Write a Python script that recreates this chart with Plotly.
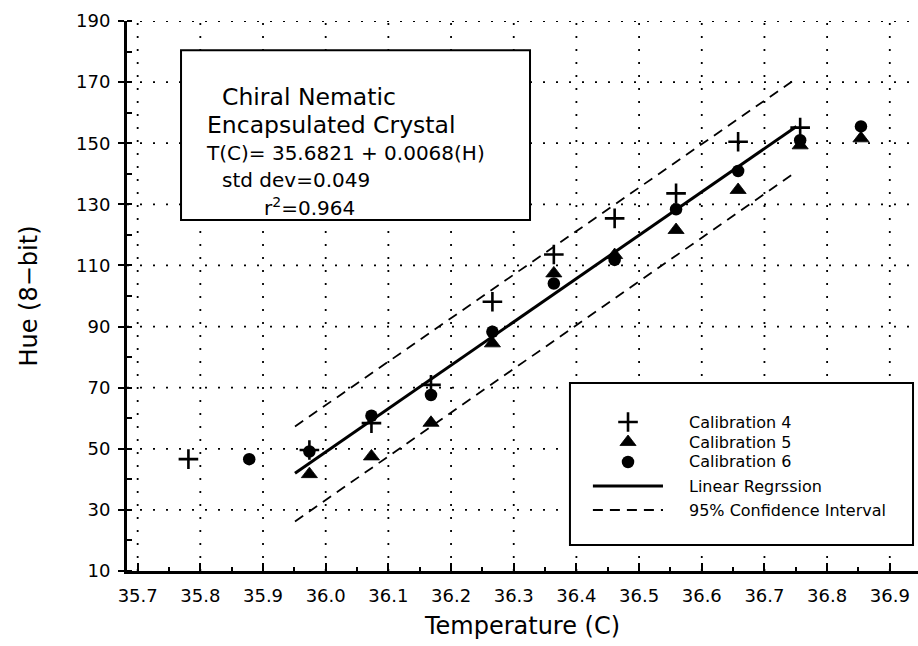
import plotly.graph_objects as go

# ---- calibration data: temperature (C) vs. hue (8-bit) ----
cal4_temp = [35.781, 35.974, 36.073, 36.168, 36.266, 36.364, 36.461, 36.559, 36.658, 36.757]
cal4_hue = [46.6, 49.6, 58.4, 70.9, 98.1, 113.6, 125.4, 133.6, 150.5, 155.1]

cal5_temp = [35.974, 36.073, 36.168, 36.266, 36.364, 36.461, 36.559, 36.658, 36.757, 36.854]
cal5_hue = [41.7, 47.5, 58.5, 84.5, 107.4, 113.4, 121.6, 134.7, 149.3, 151.6]

cal6_temp = [35.878, 35.974, 36.073, 36.168, 36.266, 36.364, 36.461, 36.559, 36.658, 36.757, 36.854]
cal6_hue = [46.6, 49.1, 60.8, 67.6, 88.3, 104.1, 111.8, 128.4, 140.9, 151.0, 155.5]

# regression line and 95% confidence band end points
fit_temp = [35.951, 36.751]
fit_hue = [42.0, 155.5]
ci_upper_hue = [57.3, 171.2]
ci_lower_hue = [26.2, 140.7]

# axis ticks
x_ticks = [35.7, 35.8, 35.9, 36.0, 36.1, 36.2, 36.3, 36.4, 36.5, 36.6, 36.7, 36.8, 36.9]
y_ticks = [10, 30, 50, 70, 90, 110, 130, 150, 170, 190]

legend_labels = ["Calibration 4", "Calibration 5", "Calibration 6",
                 "Linear Regrssion", "95% Confidence Interval"]

info_lines = ["Chiral Nematic", "Encapsulated Crystal",
              "T(C)= 35.6821 + 0.0068(H)", "std dev=0.049", "r<sup>2</sup>=0.964"]

FONT = "DejaVu Sans"
INK = "black"
DASH = "10px,7px"
GRID_DASH = "2px,11px"

plus_marker = dict(symbol="cross-thin", size=14, line=dict(width=2.6, color=INK), color=INK)
tri_marker = dict(symbol="triangle-up", size=14, color=INK, line=dict(width=0.8, color=INK))
dot_marker = dict(symbol="circle", size=12.5, color=INK, line=dict(width=0))

fig = go.Figure()

fig.add_trace(go.Scatter(x=fit_temp, y=ci_upper_hue, mode="lines",
                         line=dict(color=INK, width=1.8, dash=DASH), hoverinfo="skip"))
fig.add_trace(go.Scatter(x=fit_temp, y=ci_lower_hue, mode="lines",
                         line=dict(color=INK, width=1.8, dash=DASH), hoverinfo="skip"))
fig.add_trace(go.Scatter(x=fit_temp, y=fit_hue, mode="lines",
                         line=dict(color=INK, width=3), name=legend_labels[3]))
fig.add_trace(go.Scatter(x=cal5_temp, y=cal5_hue, mode="markers", marker=tri_marker,
                         name=legend_labels[1]))
fig.add_trace(go.Scatter(x=cal6_temp, y=cal6_hue, mode="markers", marker=dot_marker,
                         name=legend_labels[2]))
fig.add_trace(go.Scatter(x=cal4_temp, y=cal4_hue, mode="markers", marker=plus_marker,
                         name=legend_labels[0]))

# ---- hand-drawn key on an overlay axis pair spanning the plot area (0..1) ----
key_sym_x = 0.6334
key_line_x = [0.589, 0.6776]
key_text_x = 0.708
key_rows = [0.2709, 0.2345, 0.1982, 0.1545, 0.1109]

for marker, row in ((plus_marker, key_rows[0]), (tri_marker, key_rows[1]), (dot_marker, key_rows[2])):
    fig.add_trace(go.Scatter(x=[key_sym_x], y=[row], mode="markers", marker=marker,
                             xaxis="x2", yaxis="y2", hoverinfo="skip"))
fig.add_trace(go.Scatter(x=key_line_x, y=[key_rows[3]] * 2, mode="lines",
                         line=dict(color=INK, width=3), xaxis="x2", yaxis="y2", hoverinfo="skip"))
fig.add_trace(go.Scatter(x=key_line_x, y=[key_rows[4]] * 2, mode="lines",
                         line=dict(color=INK, width=1.8, dash=DASH), xaxis="x2", yaxis="y2",
                         hoverinfo="skip"))

annotations = []
for label, row in zip(legend_labels, key_rows):
    annotations.append(dict(x=key_text_x, y=row, xref="paper", yref="paper", text=label,
                            showarrow=False, xanchor="left", yanchor="middle",
                            font=dict(family=FONT, size=16, color=INK)))

# info box text: (left x, centre y, font size)
info_pos = [(0.1176, 0.8618, 23.5), (0.0986, 0.8109, 23.5), (0.0973, 0.7600, 20),
            (0.1176, 0.7109, 20), (0.1707, 0.6618, 20)]
for text, (xp, yp, fs) in zip(info_lines, info_pos):
    annotations.append(dict(x=xp, y=yp, xref="paper", yref="paper", text=text,
                            showarrow=False, xanchor="left", yanchor="middle",
                            font=dict(family=FONT, size=fs, color=INK)))

# dotted grid drawn as shapes so the opaque boxes can sit on top of it
shapes = []
for xv in x_ticks:
    shapes.append(dict(type="line", xref="x", yref="paper", x0=xv, x1=xv, y0=0, y1=1,
                       line=dict(color=INK, width=1.8, dash=GRID_DASH), layer="below"))
for yv in y_ticks[1:]:
    shapes.append(dict(type="line", xref="paper", yref="y", x0=0, x1=1, y0=yv, y1=yv,
                       line=dict(color=INK, width=1.8, dash=GRID_DASH), layer="below"))

# info box and key box (white, over the grid, under the marks)
shapes += [
    dict(type="rect", xref="paper", yref="paper", x0=0.0683, x1=0.5095, y0=0.638, y1=0.947,
         line=dict(color=INK, width=2), fillcolor="white", layer="below"),
    dict(type="rect", xref="paper", yref="paper", x0=0.560, x1=0.9937, y0=0.0473, y1=0.3418,
         line=dict(color=INK, width=2), fillcolor="white", layer="below"),
]

fig.update_layout(
    width=918, height=646,
    margin=dict(l=127, r=0, t=21, b=75),
    paper_bgcolor="white", plot_bgcolor="white",
    showlegend=False,
    font=dict(family=FONT, color=INK),
    annotations=annotations,
    shapes=shapes,
    xaxis=dict(
        range=[35.683, 36.945], tickmode="array", tickvals=x_ticks,
        ticktext=[f"{v:.1f}" for v in x_ticks],
        ticks="inside", ticklen=8, tickwidth=1.5, tickcolor=INK,
        showline=True, linewidth=3, linecolor=INK, zeroline=False, showgrid=False,
        tickfont=dict(family=FONT, size=18, color=INK), ticklabelstandoff=6,
        minor=dict(tick0=35.7, dtick=0.05, ticks="inside", ticklen=4, tickwidth=1.5,
                   tickcolor=INK, showgrid=False),
        title=dict(text="Temperature (C)", font=dict(family=FONT, size=24, color=INK), standoff=13),
    ),
    yaxis=dict(
        range=[10, 190], tickmode="array", tickvals=y_ticks,
        ticks="outside", ticklen=6, tickwidth=1.5, tickcolor=INK,
        showline=True, linewidth=3, linecolor=INK, zeroline=False, showgrid=False,
        tickfont=dict(family=FONT, size=18, color=INK), ticklabelstandoff=4,
        minor=dict(tick0=0, dtick=10, ticks="inside", ticklen=5, tickwidth=1.5,
                   tickcolor=INK, showgrid=False),
        title=dict(text="Hue (8\u2212bit)", font=dict(family=FONT, size=24, color=INK), standoff=32),
    ),
    xaxis2=dict(overlaying="x", range=[0, 1], visible=False, fixedrange=True),
    yaxis2=dict(overlaying="y", range=[0, 1], visible=False, fixedrange=True),
)

fig.write_html("out.html")
